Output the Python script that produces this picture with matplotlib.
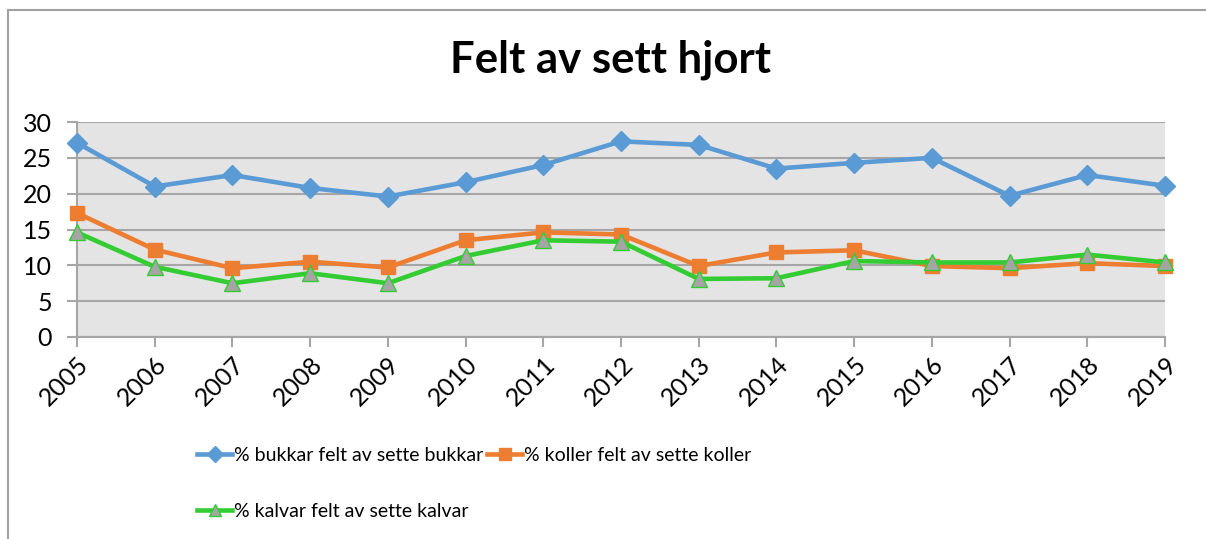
import numpy as np
import matplotlib
matplotlib.use("Agg")
import matplotlib.pyplot as plt
from matplotlib.lines import Line2D

plt.rcParams['font.family'] = ['Lato', 'DejaVu Sans']

years = ['2005', '2006', '2007', '2008', '2009', '2010', '2011', '2012',
         '2013', '2014', '2015', '2016', '2017', '2018', '2019']
bukkar = [27.1, 21.0, 22.6, 20.8, 19.6, 21.6, 24.0, 27.3, 26.8, 23.5, 24.3, 25.0, 19.7, 22.6, 21.1]
koller = [17.3, 12.2, 9.6, 10.5, 9.7, 13.5, 14.6, 14.3, 9.9, 11.8, 12.1, 9.9, 9.6, 10.3, 9.9]
kalvar = [14.6, 9.8, 7.5, 8.9, 7.5, 11.3, 13.5, 13.3, 8.1, 8.2, 10.6, 10.4, 10.4, 11.5, 10.4]
labels = ['% bukkar felt av sette bukkar', '% koller felt av sette koller',
          '% kalvar felt av sette kalvar']

W, H = 1206, 539
fig = plt.figure(figsize=(W / 100, H / 100), dpi=100)
ax = fig.add_axes([77 / W, 1 - 337 / H, (1165 - 77) / W, (337 - 122) / H])
ax.set_facecolor('#e4e4e4')

x = np.arange(len(years))
gray = '#a6a6a6'
l1, = ax.plot(x, bukkar, color='#5b9bd5', lw=3.3, marker='D', ms=10,
              clip_on=False, zorder=3)
l2, = ax.plot(x, koller, color='#ed7d31', lw=3.3, marker='s', ms=10,
              clip_on=False, zorder=3)
l3, = ax.plot(x, kalvar, color='#33cc33', lw=3.3, marker='^', ms=11,
              markerfacecolor='#a5a5a5', markeredgecolor='#33cc33',
              markeredgewidth=1, clip_on=False, zorder=4)

ax.set_xlim(0, len(years) - 1)
ax.set_ylim(0, 30)
ax.set_yticks(range(0, 31, 5))
ax.set_xticks(x)
ax.set_xticklabels(years, rotation=45, ha='right', rotation_mode='anchor')
ax.yaxis.grid(True, color=gray, lw=1.5)
ax.set_axisbelow(True)
for s in ['top', 'right']:
    ax.spines[s].set_visible(False)
for s in ['left', 'bottom']:
    ax.spines[s].set_color(gray)
    ax.spines[s].set_linewidth(1.5)
ax.tick_params(axis='both', colors=gray, width=1.5, length=7, labelcolor='black',
               labelsize=18)
ax.tick_params(axis='x', pad=4)
ax.tick_params(axis='y', pad=11)

fig.text(611 / W, 1 - 60 / H, 'Felt av sett hjort', ha='center', va='center',
         fontsize=31.5, fontweight='bold')

leg = fig.legend([l1, l3, l2], [labels[0], labels[2], labels[1]], ncol=2,
                 loc='upper left', bbox_to_anchor=(197 / W, 1 - 447 / H),
                 frameon=False, fontsize=14, handlelength=1.8, markerscale=0.8,
                 handletextpad=0.1, columnspacing=0.2, labelspacing=2.0,
                 borderpad=0, borderaxespad=0)

# outer chart border (only left and top visible in the crop)
fig.add_artist(Line2D([7.5 / W, 7.5 / W], [0, 1 - 10 / H], color='#a0a0a0',
                      lw=1.5, transform=fig.transFigure))
fig.add_artist(Line2D([7.5 / W, 1], [1 - 10 / H, 1 - 10 / H], color='#a0a0a0',
                      lw=1.5, transform=fig.transFigure))

fig.savefig('out.png', dpi=100)
